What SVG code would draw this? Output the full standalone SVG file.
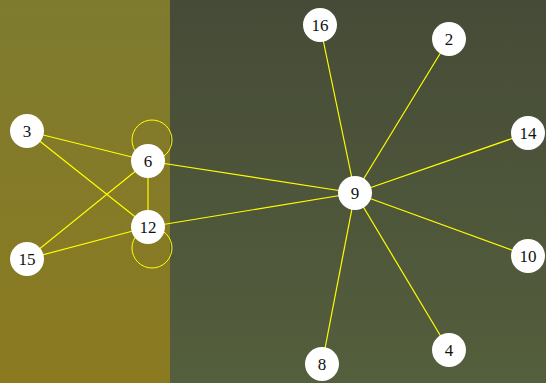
<svg xmlns="http://www.w3.org/2000/svg" width="546" height="383" viewBox="0 0 546 383">
  <defs>
    <linearGradient id="bgLeft" x1="0" y1="0" x2="0" y2="1">
      <stop offset="0" stop-color="#7e7b2f"/>
      <stop offset="1" stop-color="#8b7a20"/>
    </linearGradient>
    <linearGradient id="bgRight" x1="0" y1="0" x2="0" y2="1">
      <stop offset="0" stop-color="#464b37"/>
      <stop offset="1" stop-color="#545f3d"/>
    </linearGradient>
    <style>
      .edge { stroke: #ffff00; stroke-width: 1.2; fill: none; }
      .loop { stroke: #ffff00; stroke-width: 1; fill: none; }
      .node circle { fill: #ffffff; }
      .node text { font-family: "Liberation Serif", "Times New Roman", serif; font-size: 17px; fill: #111111; text-anchor: middle; dominant-baseline: central; }
    </style>
  </defs>

  <rect x="0" y="0" width="170" height="383" fill="url(#bgLeft)"/>
  <rect x="170" y="0" width="376" height="383" fill="url(#bgRight)"/>

  <g id="edges">
    <line class="edge" x1="27" y1="131" x2="148" y2="161"/>
    <line class="edge" x1="27" y1="131" x2="148" y2="227"/>
    <line class="edge" x1="27" y1="259" x2="148" y2="161"/>
    <line class="edge" x1="27" y1="259" x2="148" y2="227"/>
    <line class="edge" x1="148" y1="161" x2="148" y2="227"/>
    <line class="edge" x1="148" y1="161" x2="355" y2="193"/>
    <line class="edge" x1="148" y1="227" x2="355" y2="193"/>
    <line class="edge" x1="355" y1="193" x2="320" y2="25"/>
    <line class="edge" x1="355" y1="193" x2="449" y2="39"/>
    <line class="edge" x1="355" y1="193" x2="528" y2="133"/>
    <line class="edge" x1="355" y1="193" x2="528" y2="256"/>
    <line class="edge" x1="355" y1="193" x2="449" y2="350"/>
    <line class="edge" x1="355" y1="193" x2="322" y2="364"/>
    <circle class="loop" cx="152" cy="140" r="20"/>
    <circle class="loop" cx="152" cy="248" r="20"/>
  </g>

  <g id="node-3" class="node"><circle cx="27" cy="131" r="17"/><text x="27" y="131">3</text></g>
  <g id="node-6" class="node"><circle cx="148" cy="161" r="17"/><text x="148" y="161">6</text></g>
  <g id="node-12" class="node"><circle cx="148" cy="227" r="17"/><text x="148" y="227">12</text></g>
  <g id="node-15" class="node"><circle cx="27" cy="259" r="17"/><text x="27" y="259">15</text></g>
  <g id="node-9" class="node"><circle cx="355" cy="193" r="17"/><text x="355" y="193">9</text></g>
  <g id="node-16" class="node"><circle cx="320" cy="25" r="17"/><text x="320" y="25">16</text></g>
  <g id="node-2" class="node"><circle cx="449" cy="39" r="17"/><text x="449" y="39">2</text></g>
  <g id="node-14" class="node"><circle cx="528" cy="133" r="17"/><text x="528" y="133">14</text></g>
  <g id="node-10" class="node"><circle cx="528" cy="256" r="17"/><text x="528" y="256">10</text></g>
  <g id="node-4" class="node"><circle cx="449" cy="350" r="17"/><text x="449" y="350">4</text></g>
  <g id="node-8" class="node"><circle cx="322" cy="364" r="17"/><text x="322" y="364">8</text></g>
</svg>
